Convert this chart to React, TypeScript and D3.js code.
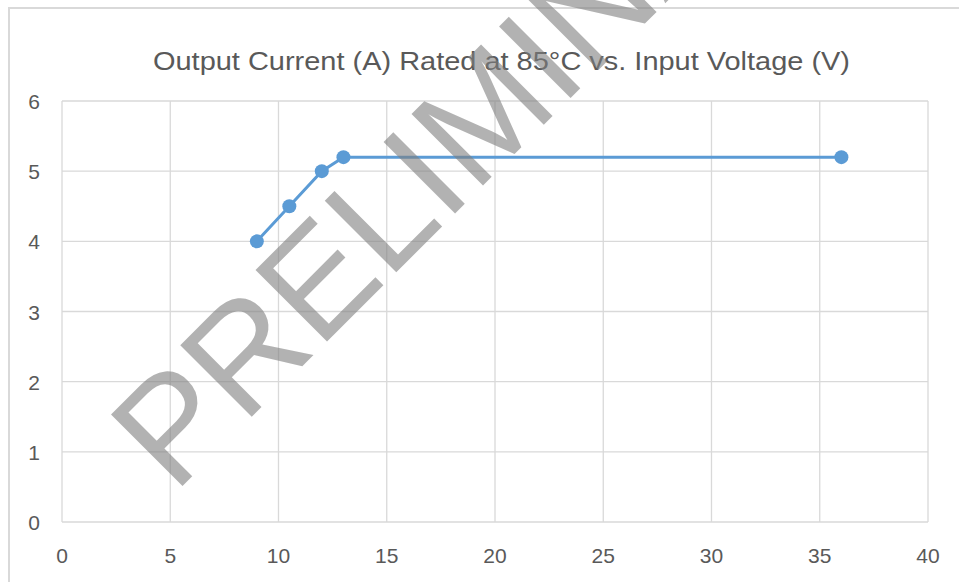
import React from 'react';
import * as d3 from 'd3';

// data
const inputVoltage = [9, 10.5, 12, 13, 36];
const outputCurrent = [4, 4.5, 5, 5.2, 5.2];
const xTicks = [0, 5, 10, 15, 20, 25, 30, 35, 40];
const yTicks = [0, 1, 2, 3, 4, 5, 6];
const title = 'Output Current (A) Rated at 85°C vs. Input Voltage (V)';
const watermark = 'PRELIMINARY';

export default function App() {
  const width = 959;
  const height = 582;
  const plot = { left: 62, right: 928, top: 101, bottom: 522 };

  const x = d3.scaleLinear().domain([0, 40]).range([plot.left, plot.right]);
  const y = d3.scaleLinear().domain([0, 6]).range([plot.bottom, plot.top]);

  const points = inputVoltage.map((v, i) => ({ v, a: outputCurrent[i] }));
  const line = d3.line<{ v: number; a: number }>()
    .x(d => x(d.v))
    .y(d => y(d.a));

  const font = '"Liberation Sans", Arial, sans-serif';
  const grey = '#595959';
  const grid = '#d9d9d9';

  return (
    <div style={{ position: 'absolute', left: 0, top: 0 }}>
      <svg width={width} height={height} style={{ display: 'block', background: '#fff' }}>
        {/* chart border, runs off the right and bottom */}
        <rect x={9} y={8} width={1000} height={600} fill="#fff" stroke={grid} strokeWidth={2} />

        {/* gridlines */}
        {yTicks.map(t => (
          <line key={'h' + t} x1={plot.left} x2={plot.right} y1={y(t)} y2={y(t)} stroke={grid} strokeWidth={1.3} />
        ))}
        {xTicks.map(t => (
          <line key={'v' + t} x1={x(t)} x2={x(t)} y1={plot.top} y2={plot.bottom} stroke={grid} strokeWidth={1.3} />
        ))}

        {/* tick labels */}
        {yTicks.map(t => (
          <text key={'yl' + t} x={40} y={y(t) + 8} textAnchor="end" fontFamily={font} fontSize={21} fill={grey}>
            {t}
          </text>
        ))}
        {xTicks.map(t => (
          <text key={'xl' + t} x={x(t)} y={563} textAnchor="middle" fontFamily={font} fontSize={21} fill={grey}>
            {t}
          </text>
        ))}

        {/* title */}
        <text x={501.5} y={70} textAnchor="middle" fontFamily={font} fontSize={25} fill={grey}
          textLength={697} lengthAdjust="spacingAndGlyphs">
          {title}
        </text>

        {/* series */}
        <path d={line(points) || ''} fill="none" stroke="#5b9bd5" strokeWidth={3} />
        {points.map((d, i) => (
          <circle key={i} cx={x(d.v)} cy={y(d.a)} r={7} fill="#5b9bd5" />
        ))}

        {/* watermark */}
        <text transform="translate(174,494.5) rotate(-45)" fontFamily={font} fontSize={147}
          fill="#7f7f7f" fillOpacity={0.6}>
          {watermark}
        </text>
      </svg>
    </div>
  );
}
